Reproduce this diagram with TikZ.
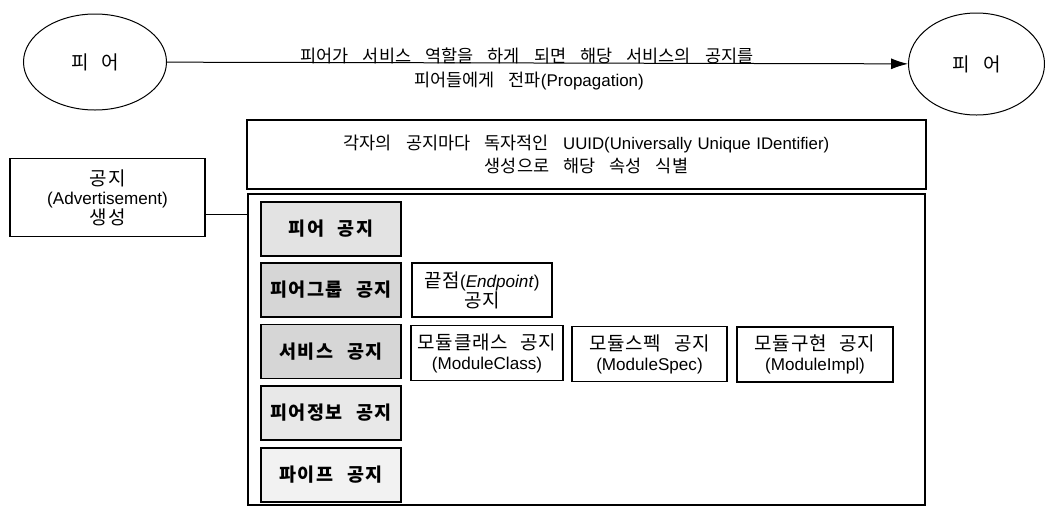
\documentclass[tikz,border=0pt]{standalone}
\usepackage{fontspec}
\setmainfont{Noto Sans CJK KR}[WordSpace=2.6]
\newfontfamily\krw{Noto Sans CJK KR}[WordSpace=3.6]
\newfontfamily\krb{Noto Sans CJK KR}[WordSpace=2.4,LetterSpace=8]
\newfontfamily\krs{Noto Sans CJK KR}[WordSpace=2.6,LetterSpace=3.5]
\newfontfamily\lat{Liberation Sans}[Scale=0.9]
\newfontfamily\latc{Liberation Sans}[Scale=0.97]
\newfontfamily\latw{Liberation Sans}[Scale=0.96,WordSpace=1.2]
\usetikzlibrary{shapes.geometric,arrows.meta}
\begin{document}
\begin{tikzpicture}[x=1pt,y=-1pt,
  every node/.style={font=\fontsize{19}{20}\selectfont\krs, align=center, inner sep=0pt},
  wide/.style={font=\fontsize{17.5}{23}\selectfont\krw},
  peer/.style={draw, ellipse, line width=1pt, font=\fontsize{19}{20}\selectfont\krw},
  box/.style={draw, line width=1.1pt, rectangle},
  gbox/.style={box, minimum width=140pt, minimum height=54pt, font=\fontsize{18.5}{20}\selectfont\krb\bfseries},
  wbox/.style={box, minimum height=55pt},
  conn/.style={line width=1pt}
]
\useasboundingbox (0,0) rectangle (1045,507);
% peers
\node[peer, minimum width=143pt, minimum height=96pt] (p1) at (95,62) {피\hspace{13pt}어};
\node[peer, minimum width=136pt, minimum height=102pt] (p2) at (976.5,64) {피\hspace{13pt}어};
\draw[conn, -{Latex[length=17pt,width=11pt]}] (p1) -- (p2);
\node[wide] (c1) at (527,56) {피어가 서비스 역할을 하게 되면 해당 서비스의 공지를};
\node[wide] (c2) at (529,81) {피어들에게 전파{\latc(Propagation)}};
% advertisement
\node[box, minimum width=195pt, minimum height=78pt, font=\fontsize{19}{19}\selectfont\krb] (adv) at (107.5,197.5) {공지\\{\lat (Advertisement)}\\생성};
\node[box, wide, minimum width=679pt, minimum height=69pt] (uuid) at (586.5,154.5) {각자의 공지마다 독자적인 {\latw UUID(Universally Unique IDentifier)}\\생성으로 해당 속성 식별};
\node[box, minimum width=677pt, minimum height=311pt] (frame) at (586.5,349.5) {};
\coordinate (j) at (frame.west |- 0,214);
\draw[conn] (adv.east |- j) -- (j);
% advertisement kinds
\node[gbox, fill=gray!22] (a1) at (331,229) {피어 공지};
\node[gbox, fill=gray!32] (a2) at (331,290) {피어그룹 공지};
\node[gbox, fill=gray!32] (a3) at (331,351.5) {서비스 공지};
\node[gbox, fill=gray!18] (a4) at (331,413) {피어정보 공지};
\node[gbox, fill=gray!10] (a5) at (331,475) {파이프 공지};
% sub advertisements
\node[wbox, minimum width=140pt, minimum height=54pt] (ep) at (482,290) {끝점{\lat(\textit{Endpoint})}\\공지};
\node[wbox, minimum width=152pt] (mc) at (487,353) {모듈클래스 공지\\{\lat(ModuleClass)}};
\node[wbox, minimum width=155pt] (ms) at (649.5,354) {모듈스펙 공지\\{\lat(ModuleSpec)}};
\node[wbox, minimum width=156pt] (mi) at (815,354.5) {모듈구현 공지\\{\lat(ModuleImpl)}};
\end{tikzpicture}
\end{document}
